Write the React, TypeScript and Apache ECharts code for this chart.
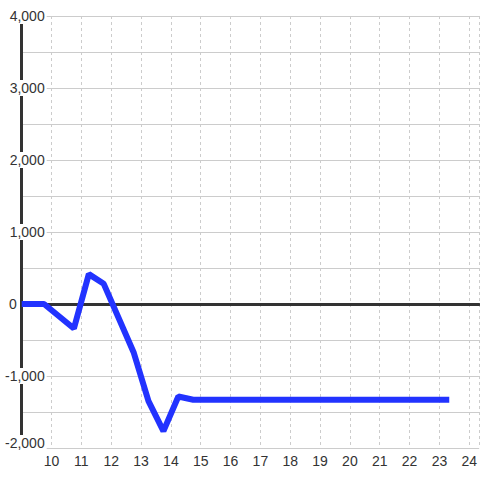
import React, { useEffect, useRef } from "react";
import * as echarts from "echarts";

const xValues = [9, 9.75, 10.75, 11.25, 11.75, 12.75, 13.25, 13.75, 14.25, 14.75, 23.33];
const yValues = [0, 0, -340, 415, 280, -670, -1350, -1765, -1285, -1330, -1330];
const xMin = 9;
const xMax = 24.333;
const yMin = -2000;
const yMax = 4000;

const FONT = "'Liberation Sans', Arial, sans-serif";
const TEXT = "#333";

export default function App() {
  const ref = useRef<HTMLDivElement>(null);
  useEffect(() => {
    if (!ref.current) return;
    const chart = echarts.init(ref.current, null, { renderer: "svg" });
    const data = xValues.map((x, i) => [x, yValues[i]]);
    chart.setOption({
      animation: false,
      backgroundColor: "#fff",
      grid: { left: 20, right: 0, top: 16, bottom: 32, containLabel: false },
      xAxis: [
        {
          type: "value",
          min: xMin,
          max: xMax,
          interval: 1,
          position: "bottom",
          z: 0,
          axisLine: { show: false, onZero: false },
          axisTick: { show: false },
          axisLabel: {
            margin: 6,
            fontSize: 14,
            color: TEXT,
            fontFamily: FONT,
            showMaxLabel: false,
            formatter: (v: number) => (Number.isInteger(v) && v > xMin ? String(v) : ""),
          },
          splitLine: { show: true, lineStyle: { color: "#ccc", width: 1, type: [3, 3] } },
        },
        {
          type: "value",
          min: xMin,
          max: xMax,
          z: 0,
          axisLine: { show: true, onZero: true, lineStyle: { color: "#333", width: 3 } },
          axisTick: { show: false },
          axisLabel: { show: false },
          splitLine: { show: false },
        },
      ],
      yAxis: [
        {
          type: "value",
          min: yMin,
          max: yMax,
          interval: 500,
          position: "left",
          z: 0,
          axisLine: { show: true, onZero: false, lineStyle: { color: "#333", width: 3 } },
          axisTick: { show: false },
          axisLabel: { show: false },
          splitLine: { show: true, lineStyle: { color: "#ccc", width: 1 } },
        },
        {
          type: "value",
          min: yMin,
          max: yMax,
          interval: 500,
          position: "left",
          offset: 0,
          z: 1,
          axisLine: { show: false, onZero: false },
          axisTick: { show: false },
          splitLine: { show: false },
          axisLabel: {
            margin: -25,
            fontSize: 14,
            color: TEXT,
            fontFamily: FONT,
            formatter: (v: number) => {
              if (v % 1000 !== 0) return "";
              if (v === 0) return "{z|0}";
              const s = v.toLocaleString("en-US");
              if (v === yMin) return "{b|" + s + "}";
              return "{a|" + s + "}";
            },
            rich: {
              a: { backgroundColor: "#fff", padding: [1, 2, 1, 2], fontSize: 14, color: TEXT, fontFamily: FONT },
              b: { backgroundColor: "#fff", padding: [1, 2, 11, 2], fontSize: 14, color: TEXT, fontFamily: FONT },
              z: { padding: [0, 30, 0, 0], fontSize: 14, color: TEXT, fontFamily: FONT },
            },
          },
        },
      ],
      series: [
        {
          type: "line",
          xAxisIndex: 0,
          yAxisIndex: 0,
          data,
          showSymbol: false,
          symbol: "none",
          z: 3,
          lineStyle: { color: "#2233ff", width: 6 },
        },
      ],
    });
    return () => chart.dispose();
  }, []);
  return (
    <div
      ref={ref}
      style={{ position: "fixed", left: 0, top: 0, width: 480, height: 480, background: "#fff" }}
    />
  );
}
